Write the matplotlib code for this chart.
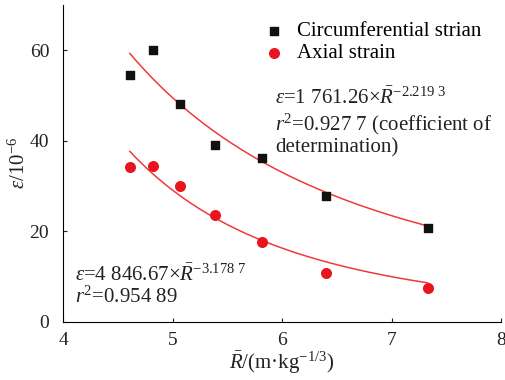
import numpy as np
import matplotlib
matplotlib.use("Agg")
import matplotlib.pyplot as plt

plt.rcParams['font.family'] = ['Liberation Serif', 'DejaVu Serif']
plt.rcParams['mathtext.fontset'] = 'custom'
plt.rcParams['mathtext.rm'] = 'Liberation Serif'
plt.rcParams['mathtext.it'] = 'Liberation Serif:italic'

# Scaled distance R (m·kg^-1/3)
r_bar = [4.61, 4.82, 5.07, 5.39, 5.82, 6.40, 7.33]
circ_strain = [54.5, 60.1, 48.2, 39.0, 36.2, 27.9, 20.8]
axial_strain = [34.1, 34.4, 29.9, 23.7, 17.7, 10.9, 7.4]

# power-law fits eps = a * R^b
circ_fit = (1761.26, -2.2193)
axial_fit = (4846.67, -3.1787)

fig = plt.figure(figsize=(5.05, 3.8), dpi=100)
ax = fig.add_axes([0.125, 0.153, 0.867, 0.834])

xs = np.linspace(min(r_bar), max(r_bar), 200)
ax.plot(xs, circ_fit[0] * xs ** circ_fit[1], color='#f03a3a', lw=1.1, zorder=1)
ax.plot(xs, axial_fit[0] * xs ** axial_fit[1], color='#f03a3a', lw=1.1, zorder=1)

ax.scatter(r_bar, circ_strain, marker='s', s=36, color='#111111',
           label='Circumferential strian', zorder=3)
ax.scatter(r_bar, axial_strain, marker='o', s=48, color='#e8141e',
           label='Axial strain', zorder=3)

ax.set_xlim(4, 8)
ax.set_ylim(0, 70)
ax.set_xticks([4, 5, 6, 7, 8])
ax.set_yticks([0, 20, 40, 60])
ax.tick_params(direction='in', length=3, labelsize=14, colors='#222222')
ax.tick_params(axis='x', pad=7)
ax.tick_params(axis='y', pad=10)
ax.spines['top'].set_visible(False)
ax.spines['right'].set_visible(False)

ax.set_xlabel(r'$\bar{R}$/(m·kg$^{-1/3}$)', fontsize=15, labelpad=1, color='#222222')
ax.set_ylabel(r'$\varepsilon$/10$^{-6}$', fontsize=15, labelpad=0, color='#222222')

ax.legend(loc='upper left', frameon=False, fontsize=15, handlelength=1.0,
          handletextpad=0.6, borderpad=0, borderaxespad=0, labelspacing=0.1,
          bbox_to_anchor=(0.458, 0.947))

ax.text(0.484, 0.738, r'$\varepsilon$=1 761.26×$\bar{R}^{-2.219\ 3}$' + '\n'
        r'$r^2$=0.927 7 (coefficient of' + '\ndetermination)',
        transform=ax.transAxes, fontsize=15, va='top', ha='left',
        linespacing=1.12, color='#222222')
ax.text(0.027, 0.18, r'$\varepsilon$=4 846.67×$\bar{R}^{-3.178\ 7}$' + '\n'
        r'$r^2$=0.954 89',
        transform=ax.transAxes, fontsize=15, va='top', ha='left',
        linespacing=1.05, color='#222222')

fig.savefig('out.png', dpi=100)
